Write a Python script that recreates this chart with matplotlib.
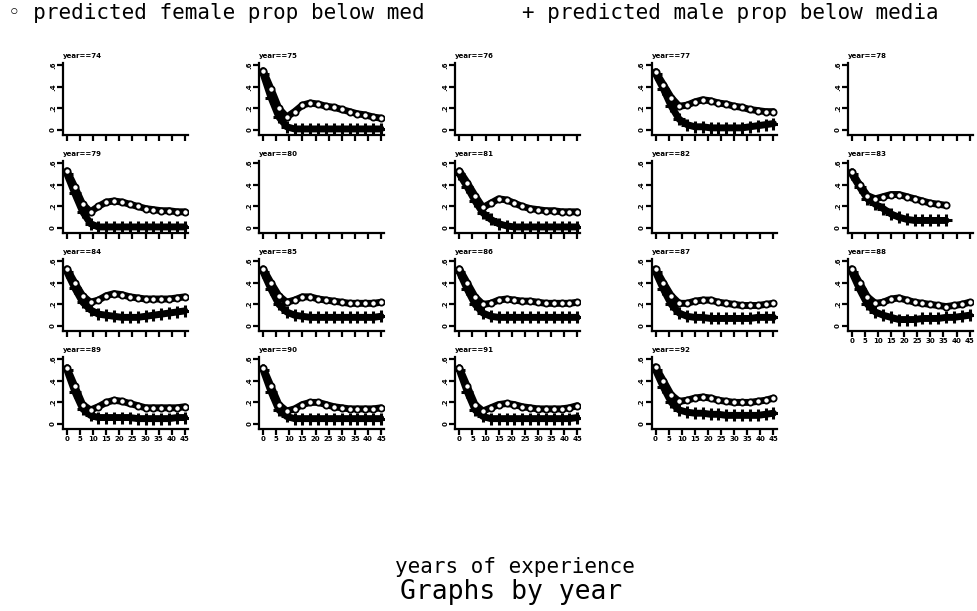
import numpy as np
import matplotlib
matplotlib.use("Agg")
import matplotlib.pyplot as plt

# years of experience (sampled every 3 years)
exper = [0, 3, 6, 9, 12, 15, 18, 21, 24, 27, 30, 33, 36, 39, 42, 45]
years = list(range(74, 93))

fem75 = [0.55, 0.38, 0.20, 0.12, 0.17, 0.23, 0.25, 0.24, 0.22, 0.21, 0.19, 0.17, 0.15, 0.14, 0.12, 0.11]
male75 = [0.52, 0.30, 0.12, 0.03, 0.01, 0.01, 0.01, 0.01, 0.01, 0.01, 0.01, 0.01, 0.01, 0.01, 0.01, 0.01]
fem77 = [0.54, 0.42, 0.30, 0.22, 0.23, 0.26, 0.28, 0.27, 0.25, 0.24, 0.22, 0.21, 0.19, 0.18, 0.17, 0.17]
male77 = [0.52, 0.38, 0.22, 0.10, 0.05, 0.03, 0.03, 0.02, 0.02, 0.02, 0.02, 0.02, 0.03, 0.04, 0.05, 0.06]
fem79 = [0.53, 0.38, 0.22, 0.15, 0.20, 0.24, 0.25, 0.24, 0.22, 0.20, 0.18, 0.17, 0.16, 0.16, 0.15, 0.15]
male79 = [0.50, 0.32, 0.15, 0.04, 0.01, 0.01, 0.01, 0.01, 0.01, 0.01, 0.01, 0.01, 0.01, 0.01, 0.01, 0.01]
fem81 = [0.53, 0.42, 0.30, 0.19, 0.23, 0.27, 0.26, 0.23, 0.20, 0.18, 0.17, 0.16, 0.16, 0.15, 0.15, 0.15]
male81 = [0.50, 0.38, 0.25, 0.14, 0.08, 0.04, 0.02, 0.01, 0.01, 0.01, 0.01, 0.01, 0.01, 0.01, 0.01, 0.01]
fem83 = [0.52, 0.40, 0.30, 0.27, 0.29, 0.31, 0.31, 0.29, 0.27, 0.25, 0.23, 0.22, 0.21]
male83 = [0.50, 0.38, 0.27, 0.22, 0.18, 0.13, 0.10, 0.08, 0.07, 0.07, 0.07, 0.07, 0.07]
fem84 = [0.53, 0.40, 0.28, 0.22, 0.24, 0.28, 0.30, 0.29, 0.27, 0.26, 0.25, 0.25, 0.25, 0.25, 0.26, 0.27]
male84 = [0.50, 0.35, 0.22, 0.15, 0.11, 0.10, 0.09, 0.08, 0.08, 0.08, 0.09, 0.10, 0.11, 0.12, 0.13, 0.14]
fem85 = [0.53, 0.40, 0.28, 0.22, 0.24, 0.27, 0.27, 0.25, 0.24, 0.23, 0.22, 0.21, 0.21, 0.21, 0.21, 0.22]
male85 = [0.50, 0.34, 0.20, 0.13, 0.10, 0.09, 0.08, 0.08, 0.08, 0.08, 0.08, 0.08, 0.08, 0.08, 0.08, 0.09]
fem86 = [0.53, 0.40, 0.27, 0.20, 0.21, 0.24, 0.25, 0.24, 0.23, 0.23, 0.22, 0.21, 0.21, 0.21, 0.21, 0.22]
male86 = [0.50, 0.34, 0.20, 0.12, 0.09, 0.08, 0.08, 0.08, 0.08, 0.08, 0.08, 0.08, 0.08, 0.08, 0.08, 0.08]
fem87 = [0.53, 0.40, 0.28, 0.21, 0.21, 0.23, 0.24, 0.24, 0.22, 0.21, 0.20, 0.19, 0.19, 0.19, 0.20, 0.21]
male87 = [0.50, 0.34, 0.20, 0.12, 0.09, 0.08, 0.08, 0.07, 0.07, 0.07, 0.07, 0.07, 0.07, 0.08, 0.08, 0.08]
fem88 = [0.53, 0.40, 0.27, 0.21, 0.22, 0.25, 0.26, 0.24, 0.22, 0.21, 0.20, 0.19, 0.18, 0.19, 0.20, 0.22]
male88 = [0.50, 0.34, 0.20, 0.13, 0.10, 0.08, 0.06, 0.06, 0.06, 0.07, 0.07, 0.07, 0.08, 0.08, 0.09, 0.10]
fem89 = [0.52, 0.35, 0.18, 0.13, 0.16, 0.20, 0.22, 0.21, 0.19, 0.17, 0.15, 0.15, 0.15, 0.15, 0.15, 0.16]
male89 = [0.50, 0.30, 0.14, 0.08, 0.06, 0.06, 0.06, 0.06, 0.06, 0.05, 0.05, 0.05, 0.05, 0.05, 0.06, 0.06]
fem90 = [0.52, 0.35, 0.18, 0.12, 0.14, 0.18, 0.20, 0.20, 0.18, 0.16, 0.15, 0.14, 0.14, 0.14, 0.14, 0.15]
male90 = [0.50, 0.30, 0.13, 0.07, 0.05, 0.05, 0.05, 0.05, 0.05, 0.05, 0.05, 0.05, 0.05, 0.05, 0.05, 0.05]
fem91 = [0.52, 0.35, 0.18, 0.12, 0.15, 0.18, 0.19, 0.18, 0.16, 0.15, 0.14, 0.14, 0.14, 0.14, 0.15, 0.17]
male91 = [0.50, 0.30, 0.13, 0.07, 0.05, 0.05, 0.05, 0.05, 0.05, 0.05, 0.05, 0.05, 0.05, 0.05, 0.05, 0.06]
fem92 = [0.53, 0.40, 0.27, 0.21, 0.22, 0.24, 0.25, 0.24, 0.22, 0.21, 0.20, 0.20, 0.20, 0.21, 0.22, 0.24]
male92 = [0.50, 0.34, 0.20, 0.13, 0.11, 0.10, 0.10, 0.09, 0.09, 0.08, 0.08, 0.08, 0.08, 0.08, 0.09, 0.10]

series = {
    75: (fem75, male75), 77: (fem77, male77), 79: (fem79, male79),
    81: (fem81, male81), 83: (fem83, male83), 84: (fem84, male84),
    85: (fem85, male85), 86: (fem86, male86), 87: (fem87, male87),
    88: (fem88, male88), 89: (fem89, male89), 90: (fem90, male90),
    91: (fem91, male91), 92: (fem92, male92),
}

W, H = 978, 611
fig = plt.figure(figsize=(W / 100, H / 100), dpi=100)
mono = "DejaVu Sans Mono"

# panel geometry in pixels
left0, colstep, axw = 63, 196.2, 125
top0, rowstep, axh = 63, 98, 72

for i, yr in enumerate(years):
    r, c = divmod(i, 5)
    x0 = left0 + c * colstep
    y0 = top0 + r * rowstep
    ax = fig.add_axes([x0 / W, 1 - (y0 + axh) / H, axw / W, axh / H])
    ax.set_xlim(-1.5, 46.2)
    ax.set_ylim(-0.046, 0.62)
    for s in ["top", "right"]:
        ax.spines[s].set_visible(False)
    for s in ["left", "bottom"]:
        ax.spines[s].set_linewidth(1.6)
    ax.set_xticks(range(0, 50, 5))
    ax.set_yticks([0, 0.2, 0.4, 0.6])
    ax.set_yticklabels(["0", ".2", ".4", ".6"], rotation=90, va="center")
    ax.tick_params(direction="out", length=4, width=1.6, labelsize=5, pad=1)
    for lab in ax.get_yticklabels() + ax.get_xticklabels():
        lab.set_fontweight("bold")
    bottom = (r == 3) or (r == 2 and c == 4)
    if not bottom:
        ax.set_xticklabels([])
    ax.text(0, 1.06, "year==%d" % yr, transform=ax.transAxes, fontsize=5,
            fontweight="bold", ha="left", va="bottom")
    if yr in series:
        fem, male = series[yr]
        ax.plot(exper[:len(male)], male, color="black", lw=5, solid_capstyle="round")
        ax.plot(exper[:len(male)], male, "+", color="black", ms=8, mew=2.2)
        ax.plot(exper[:len(fem)], fem, color="black", lw=5, solid_capstyle="round")
        ax.plot(exper[:len(fem)], fem, "o", mfc="white", mec="black", ms=4.5, mew=1.3)

fig.text(8 / W, 1 - 13 / H, "\u25e6 predicted female prop below med", family=mono,
         fontsize=15, ha="left", va="center")
fig.text(522 / W, 1 - 13 / H, "+ predicted male prop below media", family=mono,
         fontsize=15, ha="left", va="center")
fig.text(515 / W, 1 - 567 / H, "years of experience", family=mono,
         fontsize=15, ha="center", va="center")
fig.text(511 / W, 1 - 592 / H, "Graphs by year", family=mono,
         fontsize=19, ha="center", va="center")

fig.savefig("out.png", dpi=100)
